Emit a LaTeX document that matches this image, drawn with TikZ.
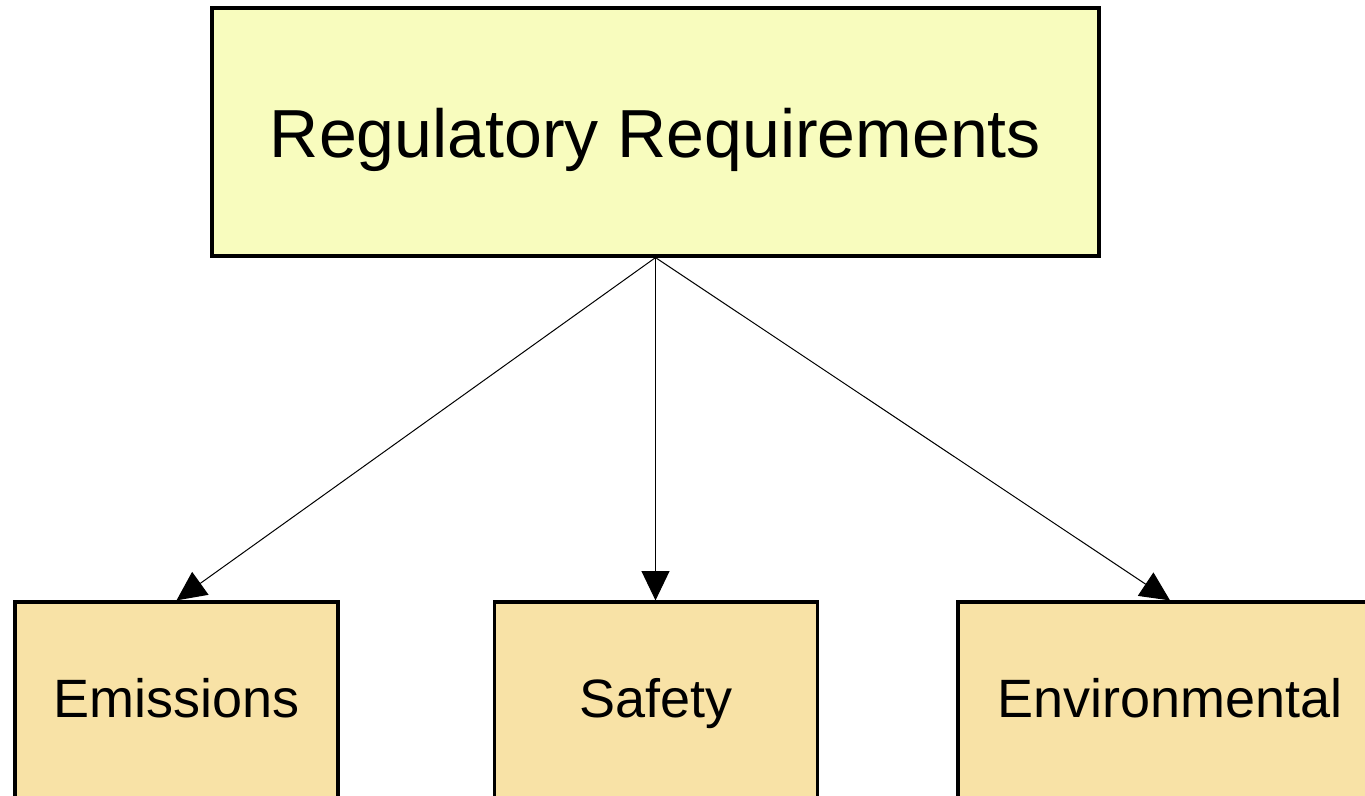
\documentclass[tikz,border=0pt]{standalone}
\usepackage{fontspec}
\setmainfont{Liberation Sans}
\usetikzlibrary{arrows.meta}
\definecolor{topfill}{RGB}{248,252,190}
\definecolor{botfill}{RGB}{248,226,166}
\tikzset{
  box/.style={draw=black, line width=2.4pt, inner sep=0pt},
  topbox/.style={box, fill=topfill, font=\fontsize{51}{60}\selectfont, text height=40pt, text depth=2.5pt},
  botbox/.style={box, fill=botfill, font=\fontsize{40.5}{48}\selectfont, text height=30pt, text depth=22.5pt},
  conn/.style={line width=0.75pt, -{Triangle[length=22pt,width=21pt]}, shorten >=0pt}
}
\begin{document}
\begin{tikzpicture}[x=0.75pt,y=-0.75pt]
\useasboundingbox (0,0) rectangle (1365,796);
\clip (0,0) rectangle (1365,796);
\fill[white] (0,0) rectangle (1365,796);
\node[topbox, minimum width=887*0.75pt, minimum height=248*0.75pt] (top) at (655.5,132) {Regulatory Requirements};
\node[botbox, minimum width=323*0.75pt, minimum height=220*0.75pt] (em) at (176.5,712) {Emissions};
\node[botbox, minimum width=323*0.75pt, minimum height=220*0.75pt] (sa) at (656,712) {Safety};
\node[botbox, minimum width=424*0.75pt, minimum height=220*0.75pt] (en) at (1170,712) {Environmental};
\draw[conn] (top.south) -- (em.north);
\draw[conn] (top.south) -- (top.south |- sa.north);
\draw[conn] (top.south) -- (en.north);
\end{tikzpicture}
\end{document}
